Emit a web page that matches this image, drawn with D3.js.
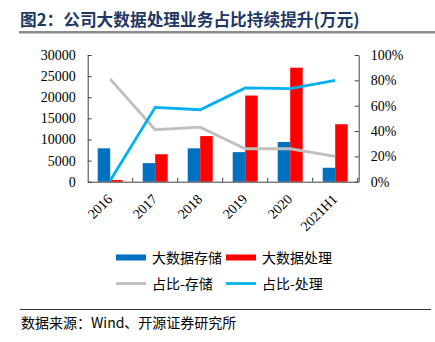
<!DOCTYPE html>
<html><head><meta charset="utf-8">
<script src="https://cdn.jsdelivr.net/npm/d3@7"></script>
<style>body{margin:0;background:#fff}svg{display:block}</style>
</head><body>
<svg id="c" width="435" height="342"></svg>
<script>
const categories = ["2016","2017","2018","2019","2020","2021H1"];
const storage = [7900, 4400, 7900, 7000, 9400, 3300];
const processing = [400, 6500, 10800, 20400, 27000, 13600];
const shareStorage = [0.81, 0.41, 0.43, 0.26, 0.26, 0.20];
const shareProcessing = [0.01, 0.587, 0.568, 0.74, 0.735, 0.80];
const leftTicks = [0,5000,10000,15000,20000,25000,30000];
const rightTicks = [0,0.2,0.4,0.6,0.8,1.0];
const title = "图2：公司大数据处理业务占比持续提升(万元)";
const source = "数据来源：Wind、开源证券研究所";
const legendItems = [
  {name:"大数据存储", type:"bar", color:"#0070C0"},
  {name:"大数据处理", type:"bar", color:"#FF0000"},
  {name:"占比-存储", type:"line", color:"#BFBFBF"},
  {name:"占比-处理", type:"line", color:"#00B0F0"}
];

const svg = d3.select("#c");
const serif = "'Liberation Serif','Times New Roman',serif";
const cjk = "'Noto Sans CJK SC','Noto Sans',sans-serif";

// title
svg.append("text").attr("x",20).attr("y",26).attr("font-family",cjk)
  .attr("font-weight","bold").attr("font-size",16.7).attr("fill","#1F3864").text(title);
svg.append("rect").attr("x",19).attr("y",31).attr("width",416).attr("height",2.5).attr("fill","#8C8C8C");

const x0 = d3.scaleBand().domain(categories).range([87.7,357.7]);
const x1 = d3.scaleBand().domain(["s","p"]).range([0,x0.bandwidth()]).paddingOuter(0.8).paddingInner(0);
const yL = d3.scaleLinear().domain([0,30000]).range([181.7,55]);
const yR = d3.scaleLinear().domain([0,1]).range([181.7,55]);

const g = svg.append("g");
categories.forEach((c,i)=>{
  g.append("rect").attr("x",x0(c)+x1("s")).attr("width",x1.bandwidth())
    .attr("y",yL(storage[i])).attr("height",yL(0)-yL(storage[i])).attr("fill","#0070C0");
  g.append("rect").attr("x",x0(c)+x1("p")).attr("width",x1.bandwidth())
    .attr("y",yL(processing[i])).attr("height",yL(0)-yL(processing[i])).attr("fill","#FF0000");
});

const axisColor = "#404040";
const la = svg.append("g").attr("transform","translate(87.7,0)")
  .call(d3.axisLeft(yL).tickValues(leftTicks).tickSizeInner(-4).tickSizeOuter(0).tickPadding(12).tickFormat(d3.format("d")));
const ra = svg.append("g").attr("transform","translate(358.7,0)")
  .call(d3.axisRight(yR).tickValues(rightTicks).tickSizeInner(-4).tickSizeOuter(0).tickPadding(12).tickFormat(d3.format(".0%")));
const xa = svg.append("g").attr("transform","translate(0,181.7)")
  .call(d3.axisBottom(x0).tickSize(0).tickFormat(""));
categories.forEach((c,i)=>{
  const xx = i < categories.length-1 ? x0(categories[i+1]) : x0.range()[1];
  xa.append("line").attr("x1",xx).attr("x2",xx).attr("y1",0).attr("y2",-4).attr("stroke",axisColor);
});
[la,ra,xa].forEach(a=>{
  a.selectAll("path,line").attr("stroke",axisColor).attr("stroke-width",1);
  a.selectAll("text").attr("font-family",serif).attr("font-size",14).attr("fill","#000");
});
ra.selectAll("text").attr("text-anchor","start");

categories.forEach(c=>{
  const cx = x0(c)+x0.bandwidth()/2;
  svg.append("text").attr("transform",`translate(${cx+3},${200}) rotate(-45)`)
    .attr("text-anchor","end").attr("font-family",serif).attr("font-size",14).text(c);
});

const line = d3.line().x((d,i)=>x0(categories[i])+x0.bandwidth()/2).y(d=>yR(d));
svg.append("path").datum(shareStorage).attr("d",line).attr("fill","none").attr("stroke","#BFBFBF").attr("stroke-width",2.8);
svg.append("path").datum(shareProcessing).attr("d",line).attr("fill","none").attr("stroke","#00B0F0").attr("stroke-width",2.8);

legendItems.forEach((it,i)=>{
  const lx = 116 + (i%2)*110, ly = 257.5 + Math.floor(i/2)*26;
  if(it.type==="bar"){
    svg.append("rect").attr("x",lx).attr("y",ly-3).attr("width",30).attr("height",6).attr("fill",it.color);
  } else {
    svg.append("line").attr("x1",lx).attr("x2",lx+30).attr("y1",ly).attr("y2",ly).attr("stroke",it.color).attr("stroke-width",2.8);
  }
  svg.append("text").attr("x",lx+36).attr("y",ly+5).attr("font-family",cjk).attr("font-size",14).text(it.name);
});

svg.append("line").attr("x1",20).attr("x2",431).attr("y1",309.5).attr("y2",309.5).attr("stroke","#333").attr("stroke-width",1);
svg.append("text").attr("x",21).attr("y",328).attr("font-family",cjk).attr("font-size",14).text(source);
</script>
</body></html>
